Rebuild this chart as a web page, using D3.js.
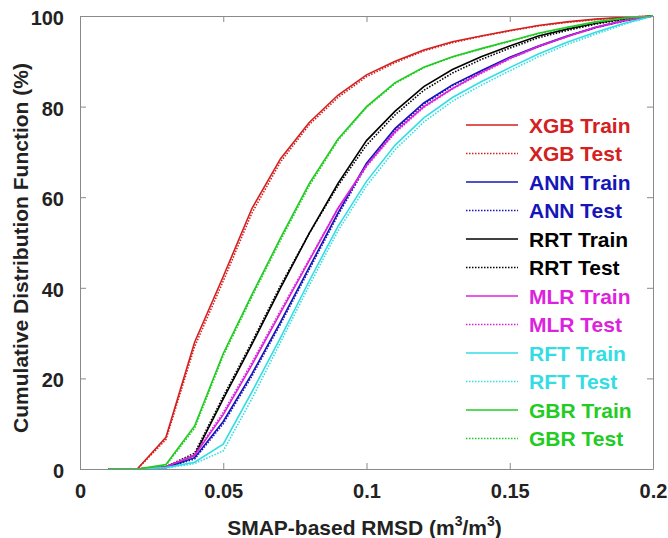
<!DOCTYPE html>
<html>
<head>
<meta charset="utf-8">
<script src="https://cdn.jsdelivr.net/npm/d3@7"></script>
<style>
  body { margin: 0; background: #fff; }
  text { font-family: "Liberation Sans", Arial, sans-serif; font-weight: bold; }
</style>
</head>
<body>
<script>
// RMSD bins (m3/m3)
var rmsd = [0.01, 0.02, 0.03, 0.04, 0.05, 0.06, 0.07, 0.08, 0.09, 0.10,
            0.11, 0.12, 0.13, 0.14, 0.15, 0.16, 0.17, 0.18, 0.19, 0.20];

var xgbTrain = [0, 0, 7, 28, 42.5, 57.5, 68.5, 76.5, 82.5, 87, 90, 92.5, 94.3, 95.6, 96.8, 97.9, 98.7, 99.3, 99.7, 100];
var xgbTest  = [0, 0, 6.5, 27, 41.5, 56.5, 67.8, 76, 82, 86.6, 89.7, 92.3, 94.1, 95.5, 96.7, 97.8, 98.6, 99.2, 99.7, 100];
var annTrain = [0, 0, 0.3, 2.5, 10.5, 21, 32.5, 44.5, 56.5, 67.5, 75.2, 80.8, 84.8, 87.9, 90.9, 93.4, 95.6, 97.5, 99, 100];
var annTest  = [0, 0, 0.3, 2.2, 10, 20.5, 32, 44, 56, 67, 74.9, 80.5, 84.6, 87.7, 90.7, 93.2, 95.5, 97.4, 98.9, 100];
var rrtTrain = [0, 0, 0.5, 3, 15.5, 27.5, 40, 52, 63, 72.5, 79, 84.4, 88.2, 91, 93.4, 95.6, 97.1, 98.4, 99.4, 100];
var rrtTest  = [0, 0, 0.5, 3.5, 16, 28, 40.5, 52, 62.5, 71.5, 78.2, 83.6, 87.4, 90.4, 92.9, 95.2, 96.8, 98.2, 99.3, 100];
var mlrTrain = [0, 0, 0.5, 3, 12, 23, 34.5, 46, 57.5, 67, 74.5, 80, 84, 87.5, 90.7, 93.3, 95.5, 97.5, 99, 100];
var mlrTest  = [0, 0, 0.5, 3.2, 12.5, 23.5, 35, 46.3, 57.5, 66.8, 74.2, 79.8, 83.9, 87.3, 90.5, 93.2, 95.4, 97.4, 98.9, 100];
var rftTrain = [0, 0, 0.3, 1.5, 5.5, 17, 29, 41.5, 53.5, 63.5, 71.5, 77.5, 82, 85.5, 88.6, 91.6, 94.2, 96.4, 98.4, 100];
var rftTest  = [0, 0, 0.2, 1.2, 4, 15.5, 28, 40.5, 52.5, 62.5, 70.5, 76.6, 81.2, 84.7, 87.9, 91, 93.7, 96, 98.2, 100];
var gbrTrain = [0, 0, 1, 9.5, 25.5, 38.5, 51, 63, 72.8, 80, 85.3, 88.7, 91, 92.8, 94.5, 96.2, 97.5, 98.7, 99.5, 100];
var gbrTest  = [0, 0, 0.8, 9, 25, 38, 50.5, 62.5, 72.5, 79.8, 85.1, 88.6, 90.9, 92.7, 94.4, 96.1, 97.4, 98.6, 99.5, 100];

var seriesNames = ['XGB Train', 'XGB Test', 'ANN Train', 'ANN Test', 'RRT Train', 'RRT Test',
                   'MLR Train', 'MLR Test', 'RFT Train', 'RFT Test', 'GBR Train', 'GBR Test'];
var seriesValues = [xgbTrain, xgbTest, annTrain, annTest, rrtTrain, rrtTest,
                    mlrTrain, mlrTest, rftTrain, rftTest, gbrTrain, gbrTest];
var seriesColors = ['#d42020', '#d42020', '#1616b8', '#1616b8', '#000000', '#000000',
                    '#dd22dd', '#dd22dd', '#33dde3', '#33dde3', '#22cc22', '#22cc22'];

var xTicks = [0, 0.05, 0.1, 0.15, 0.2];
var yTicks = [0, 20, 40, 60, 80, 100];

var width = 668;
var height = 538;
var plotLeft = 80, plotRight = 653, plotTop = 16, plotBottom = 469;

var svg = d3.select('body').append('svg')
  .attr('width', width)
  .attr('height', height);

var x = d3.scaleLinear().domain([0, 0.2]).range([plotLeft, plotRight]);
var y = d3.scaleLinear().domain([0, 100]).range([plotBottom, plotTop]);

var series = seriesNames.map(function(name, i) {
  return {
    name: name,
    color: seriesColors[i],
    dotted: i % 2 === 1,
    points: rmsd.map(function(r, j) { return [r, seriesValues[i][j]]; })
  };
});

var line = d3.line()
  .x(function(d) { return x(d[0]); })
  .y(function(d) { return y(d[1]); });

svg.append('g').selectAll('path').data(series).enter().append('path')
  .attr('d', function(d) { return line(d.points); })
  .attr('fill', 'none')
  .attr('stroke', function(d) { return d.color; })
  .attr('stroke-width', 1.6)
  .attr('stroke-dasharray', function(d) { return d.dotted ? '1.5,1.5' : null; });

// axes box, ticks inward on all four sides
var axisColor = '#8a8a8a';
var tickLen = 6;

function styleAxis(g) {
  g.select('.domain').attr('stroke', axisColor);
  g.selectAll('.tick line').attr('stroke', axisColor);
  g.selectAll('.tick text')
    .attr('fill', '#222')
    .style('font-size', '20px')
    .style('font-family', '"Liberation Sans", Arial, sans-serif')
    .style('font-weight', 'bold');
}

svg.append('g')
  .attr('transform', 'translate(0,' + plotBottom + ')')
  .call(d3.axisBottom(x).tickValues(xTicks).tickFormat(d3.format('')).tickSize(-tickLen).tickPadding(15).tickSizeOuter(0))
  .call(styleAxis);

svg.append('g')
  .attr('transform', 'translate(0,' + plotTop + ')')
  .call(d3.axisTop(x).tickValues(xTicks).tickFormat('').tickSize(-tickLen).tickSizeOuter(0))
  .call(styleAxis);

svg.append('g')
  .attr('transform', 'translate(' + plotLeft + ',0)')
  .call(d3.axisLeft(y).tickValues(yTicks).tickSize(-tickLen).tickPadding(16).tickSizeOuter(0))
  .call(styleAxis)
  .selectAll('.tick text').attr('dy', '0.42em');

svg.append('g')
  .attr('transform', 'translate(' + plotRight + ',0)')
  .call(d3.axisRight(y).tickValues(yTicks).tickFormat('').tickSize(-tickLen).tickSizeOuter(0))
  .call(styleAxis);

// legend
var legend = svg.append('g').selectAll('g').data(series).enter().append('g')
  .attr('transform', function(d, i) { return 'translate(466,' + (125 + i * 28.5) + ')'; });

legend.append('line')
  .attr('x1', 0).attr('x2', 52)
  .attr('stroke', function(d) { return d.color; })
  .attr('stroke-width', 1.6)
  .attr('stroke-dasharray', function(d) { return d.dotted ? '1.5,1.5' : null; });

legend.append('text')
  .attr('x', 63)
  .attr('dy', '0.36em')
  .attr('fill', function(d) { return d.color; })
  .style('font-size', '21px')
  .text(function(d) { return d.name; });

// axis titles
var xTitle = svg.append('text')
  .attr('x', (plotLeft + plotRight) / 2 - 2)
  .attr('y', 535)
  .attr('text-anchor', 'middle')
  .attr('fill', '#222')
  .style('font-size', '21px');
xTitle.append('tspan').text('SMAP-based RMSD (m');
xTitle.append('tspan').attr('dy', -9).style('font-size', '14px').text('3');
xTitle.append('tspan').attr('dy', 9).text('/m');
xTitle.append('tspan').attr('dy', -9).style('font-size', '14px').text('3');
xTitle.append('tspan').attr('dy', 9).text(')');

svg.append('text')
  .attr('transform', 'translate(28,248) rotate(-90)')
  .attr('text-anchor', 'middle')
  .attr('fill', '#222')
  .style('font-size', '21px')
  .text('Cumulative Distribution Function (%)');
</script>
</body>
</html>
